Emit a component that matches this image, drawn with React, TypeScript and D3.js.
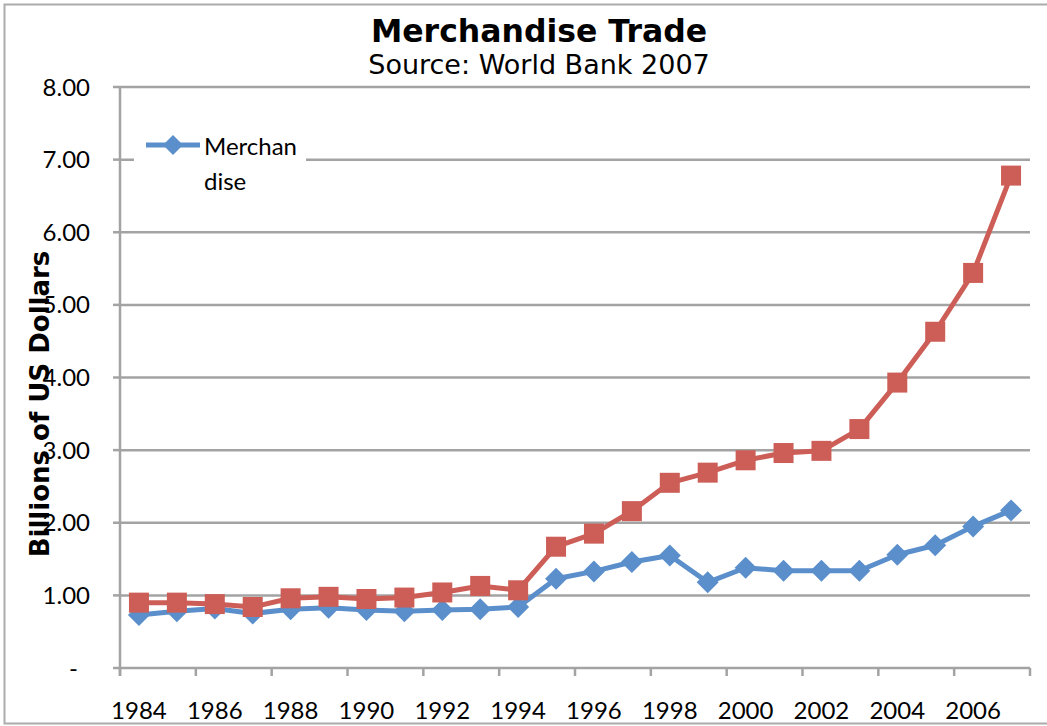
import React from "react";
import * as d3 from "d3";

const years: number[] = [1984,1985,1986,1987,1988,1989,1990,1991,1992,1993,1994,1995,1996,1997,1998,1999,2000,2001,2002,2003,2004,2005,2006,2007];
const merchandiseValues: number[] = [0.73,0.78,0.82,0.75,0.81,0.83,0.80,0.78,0.80,0.81,0.84,1.23,1.33,1.46,1.55,1.18,1.38,1.34,1.34,1.34,1.56,1.69,1.95,2.17];
const secondSeriesValues: number[] = [0.90,0.90,0.88,0.84,0.96,0.98,0.95,0.97,1.04,1.13,1.07,1.67,1.85,2.16,2.55,2.69,2.86,2.96,2.99,3.29,3.93,4.63,5.44,6.78];
const yTicks: number[] = [0,1,2,3,4,5,6,7,8];
const xLabelYears: number[] = [1984,1986,1988,1990,1992,1994,1996,1998,2000,2002,2004,2006];
const titleText = "Merchandise Trade";
const subtitleText = "Source: World Bank 2007";
const yAxisTitle = "Billions of US Dollars";
const legendLines = ["Merchan", "dise"];

const W = 1047, H = 726;
const left = 120, right = 1030, top = 87, bottom = 668;
const BLUE = "#5B8FCB";
const RED = "#CD5E57";
const GRID = "#A3A3A3";
const tickFont = "Lato, 'Open Sans', sans-serif";

export default function App() {
  const x = d3.scaleBand<number>().domain(years).range([left, right]).paddingInner(0).paddingOuter(0);
  const y = d3.scaleLinear().domain([0, 8]).range([bottom, top]);
  const cx = (yr: number) => (x(yr) as number) + x.bandwidth() / 2;
  const line = d3.line<number>().x((_, i) => cx(years[i])).y((v) => y(v));
  const boundaries = years.filter((_, i) => i % 2 === 0).map((yr) => x(yr) as number).concat([right]);
  const diamond = (px: number, py: number, r: number) => `M${px},${py - r}L${px + r},${py}L${px},${py + r}L${px - r},${py}Z`;
  const sq = 20;

  return (
    <svg width={W} height={H} style={{ position: "absolute", left: 0, top: 0, background: "#fff" }}>
      <rect x={0} y={0} width={W} height={H} fill="#fff" />
      <rect x={4.5} y={4.5} width={W + 10} height={719} fill="none" stroke="#ABABAB" strokeWidth={2} />
      {/* gridlines */}
      {yTicks.filter((t) => t > 0).map((t) => (
        <line key={"g" + t} x1={left} x2={right} y1={y(t)} y2={y(t)} stroke={GRID} strokeWidth={2.5} />
      ))}
      {/* y axis */}
      <line x1={left} x2={left} y1={top} y2={bottom + 8} stroke={GRID} strokeWidth={2.5} />
      {yTicks.map((t) => (
        <line key={"yt" + t} x1={left - 7} x2={left} y1={y(t)} y2={y(t)} stroke={GRID} strokeWidth={2.5} />
      ))}
      {yTicks.map((t) => (
        <text key={"yl" + t} x={t === 0 ? 78 : 90} y={y(t) + 8.5} textAnchor="end" fontFamily={tickFont} fontSize={24} fill="#000">
          {t === 0 ? "-" : d3.format(".2f")(t)}
        </text>
      ))}
      {/* x axis */}
      <line x1={left} x2={right} y1={bottom} y2={bottom} stroke={GRID} strokeWidth={2.5} />
      {boundaries.map((bx, i) => (
        <line key={"xt" + i} x1={bx} x2={bx} y1={bottom} y2={bottom + 8} stroke={GRID} strokeWidth={2.5} />
      ))}
      {xLabelYears.map((yr) => (
        <text key={"xl" + yr} x={cx(yr)} y={719} textAnchor="middle" fontFamily={tickFont} fontSize={24} fill="#000">
          {yr}
        </text>
      ))}
      {/* series */}
      <path d={line(merchandiseValues) || ""} fill="none" stroke={BLUE} strokeWidth={5} strokeLinejoin="round" />
      {merchandiseValues.map((v, i) => (
        <path key={"d" + i} d={diamond(cx(years[i]), y(v), 11)} fill={BLUE} />
      ))}
      <path d={line(secondSeriesValues) || ""} fill="none" stroke={RED} strokeWidth={5} strokeLinejoin="round" />
      {secondSeriesValues.map((v, i) => (
        <rect key={"s" + i} x={cx(years[i]) - sq / 2} y={y(v) - sq / 2} width={sq} height={sq} fill={RED} />
      ))}
      {/* legend */}
      <rect x={134} y={127} width={172} height={72} fill="#fff" />
      <line x1={146} x2={200} y1={145} y2={145} stroke={BLUE} strokeWidth={5} />
      <path d={diamond(173, 145, 10)} fill={BLUE} />
      <text x={204} y={155} fontFamily={tickFont} fontSize={24} fill="#000">{legendLines[0]}</text>
      <text x={204} y={190} fontFamily={tickFont} fontSize={24} fill="#000">{legendLines[1]}</text>
      {/* titles */}
      <text x={539} y={42} textAnchor="middle" fontFamily="'DejaVu Sans', Verdana, sans-serif" fontWeight="bold" fontSize={31.5} fill="#000">{titleText}</text>
      <text x={539} y={74} textAnchor="middle" fontFamily="'DejaVu Sans', Verdana, sans-serif" fontSize={27} fill="#000">{subtitleText}</text>
      <text transform={`translate(49,404) rotate(-90)`} textAnchor="middle" fontFamily="'DejaVu Sans', Verdana, sans-serif" fontWeight="bold" fontSize={26} fill="#000">{yAxisTitle}</text>
    </svg>
  );
}
